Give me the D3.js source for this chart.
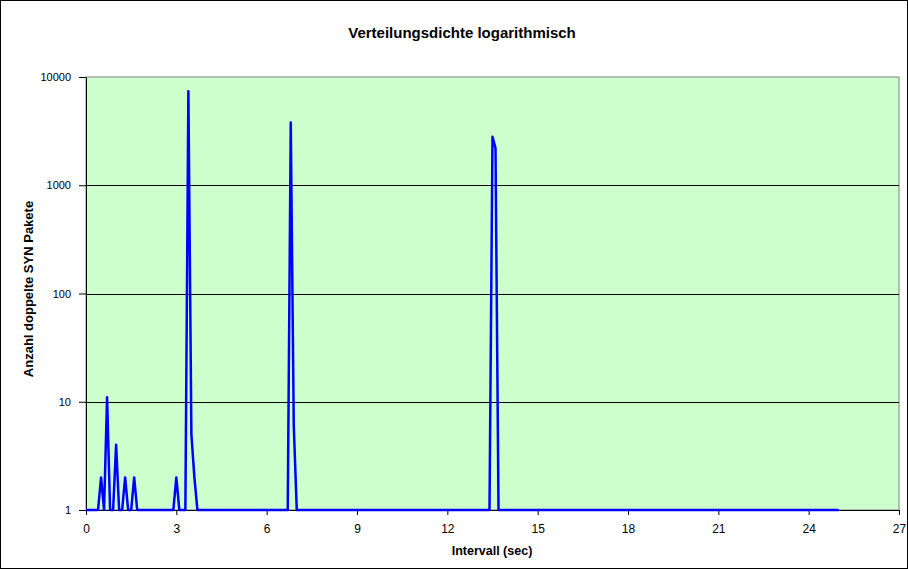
<!DOCTYPE html>
<html>
<head>
<meta charset="utf-8">
<script src="https://cdn.jsdelivr.net/npm/d3@7"></script>
<style>
    body { margin: 0; background: #fff; }
    svg { display: block; font-family: Arial, "Liberation Sans", sans-serif; }
</style>
</head>
<body>
<svg id="chart" width="908" height="569"></svg>
<script>
/**
 * Data: interval (sec) and number of duplicate SYN packets.
 * Points between listed intervals sit on the baseline (1).
 */
const intervals = [0.0, 0.4, 0.5, 0.6, 0.7, 0.8, 0.9, 1.0, 1.1, 1.2, 1.3, 1.4, 1.5, 1.6, 1.7,
    2.9, 3.0, 3.1, 3.3, 3.4, 3.5, 3.6, 3.7, 6.7, 6.8, 6.9, 7.0, 13.4, 13.5, 13.6, 13.7, 25.0];
const counts = [1, 1, 2, 1, 11, 1, 1, 4, 1, 1, 2, 1, 1, 2, 1,
    1, 2, 1, 1, 7400, 5, 2, 1, 1, 3800, 6, 1, 1, 2800, 2200, 1, 1];

const xTicks = [0, 3, 6, 9, 12, 15, 18, 21, 24, 27];
const yTicks = [1, 10, 100, 1000, 10000];

const chartTitle = 'Verteilungsdichte logarithmisch',
    xTitle = 'Intervall (sec)',
    yTitle = 'Anzahl doppelte SYN Pakete';

/**
 * Visual configs.
 */
const visWidth = 908, visHeight = 569;
const plot = { left: 86, right: 899, top: 77, bottom: 510 };

const svg = d3.select('#chart');

// Outer chart border
svg.append('rect')
    .attr('x', 0.5).attr('y', 0.5)
    .attr('width', visWidth - 1).attr('height', visHeight - 1)
    .attr('fill', '#fff').attr('stroke', '#000');

const x = d3.scaleLinear().domain([0, 27]).range([plot.left, plot.right]);
const y = d3.scaleLog().domain([1, 10000]).range([plot.bottom, plot.top]);

// Plot area
svg.append('rect')
    .attr('x', plot.left).attr('y', plot.top)
    .attr('width', plot.right - plot.left).attr('height', plot.bottom - plot.top)
    .attr('fill', '#ccffcc').attr('stroke', '#808080');

// Gridlines
svg.append('g').selectAll('line')
    .data(yTicks.slice(1, -1))
    .join('line')
    .attr('x1', plot.left).attr('x2', plot.right)
    .attr('y1', d => Math.round(y(d)) + 0.5).attr('y2', d => Math.round(y(d)) + 0.5)
    .attr('stroke', '#000');

// Axes
const xAxis = svg.append('g')
    .attr('transform', 'translate(0,' + plot.bottom + ')')
    .call(d3.axisBottom(x).tickValues(xTicks).tickSize(5).tickPadding(9).tickSizeOuter(0));

const yAxis = svg.append('g')
    .attr('transform', 'translate(' + plot.left + ',0)')
    .call(d3.axisLeft(y).tickValues(yTicks).tickFormat(d3.format('d'))
        .tickSize(7).tickPadding(8).tickSizeOuter(0));

[xAxis, yAxis].forEach(a => {
    a.select('.domain').attr('stroke', '#000');
    a.selectAll('.tick line').attr('stroke', '#000');
    a.selectAll('.tick text').attr('fill', '#000');
});
xAxis.selectAll('.tick text').attr('font-size', 12);
yAxis.selectAll('.tick text').attr('font-size', 11);

// Series line
const points = intervals.map((t, i) => ({ t: t, n: counts[i] }));
const line = d3.line().x(d => x(d.t)).y(d => y(d.n));

svg.append('path')
    .datum(points)
    .attr('d', line)
    .attr('fill', 'none')
    .attr('stroke', '#0000ff')
    .attr('stroke-width', 2.5)
    .attr('stroke-linejoin', 'round');

// Titles
svg.append('text')
    .attr('x', 462).attr('y', 37.5)
    .attr('text-anchor', 'middle')
    .attr('font-size', 15).attr('font-weight', 'bold')
    .text(chartTitle);

svg.append('text')
    .attr('x', 492).attr('y', 555)
    .attr('text-anchor', 'middle')
    .attr('font-size', 12.5).attr('font-weight', 'bold')
    .text(xTitle);

svg.append('text')
    .attr('transform', 'translate(33,' + 289 + ') rotate(-90)')
    .attr('text-anchor', 'middle')
    .attr('font-size', 13).attr('font-weight', 'bold')
    .text(yTitle);
</script>
</body>
</html>
